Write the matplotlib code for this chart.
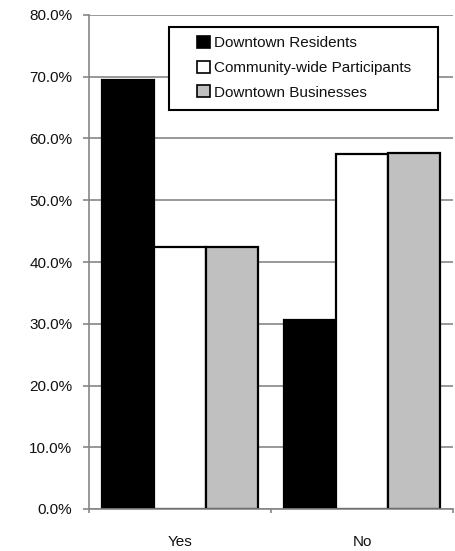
import matplotlib
matplotlib.use("Agg")
import matplotlib.pyplot as plt
from matplotlib.patches import Rectangle, Patch
from matplotlib.ticker import FuncFormatter, FixedLocator
import numpy as np

plt.rcParams['font.family'] = ['Liberation Sans', 'DejaVu Sans']

categories = ["Yes", "No"]
series_names = ["Downtown Residents", "Community-wide Participants", "Downtown Businesses"]
residents = [69.4, 30.6]
community = [42.5, 57.5]
businesses = [42.4, 57.6]
y_ticks = [0, 10, 20, 30, 40, 50, 60, 70, 80]

colors = ["#000000", "#ffffff", "#c0c0c0"]
axis_gray = "#868686"
text_color = "#111111"

fig = plt.figure(figsize=(4.55, 5.51), dpi=100)
ax = fig.add_axes([89 / 455, 1 - 509 / 551, 364 / 455, 494 / 551])

x = np.arange(len(categories))
width = 0.285
for i, (vals, col, name) in enumerate(zip([residents, community, businesses], colors, series_names)):
    ax.bar(x + (i - 1) * width, vals, width, color=col, edgecolor="black",
           linewidth=1.6, label=name, zorder=3)

ax.set_xlim(-0.5, 1.5)
ax.set_ylim(0, 80)
ax.yaxis.set_major_locator(FixedLocator(y_ticks))
ax.yaxis.set_major_formatter(FuncFormatter(lambda v, p: f"{v:.1f}%"))
ax.grid(axis="y", color=axis_gray, linewidth=1.2, zorder=0)
ax.set_axisbelow(True)

for s in ["top", "right"]:
    ax.spines[s].set_visible(False)
for s in ["left", "bottom"]:
    ax.spines[s].set_color(axis_gray)
    ax.spines[s].set_linewidth(1.2)
    ax.spines[s].set_zorder(4)

ax.tick_params(axis="y", direction="out", length=4.5, width=1.2, color=axis_gray,
               labelsize=11, labelcolor=text_color, pad=7.5)
ax.set_xticks(x)
ax.set_xticklabels(categories)
ax.tick_params(axis="x", which="major", length=0, labelsize=11, labelcolor=text_color, pad=19)
ax.set_xticks([-0.5, 0.5, 1.5], minor=True)
ax.tick_params(axis="x", which="minor", direction="out", length=3, width=1.2, color=axis_gray)

# legend box with its own frame
ax.add_patch(Rectangle((80 / 364, (509 - 110) / 494), 269 / 364, 83 / 494,
                       transform=ax.transAxes, facecolor="white", edgecolor="black",
                       linewidth=1.5, zorder=5))
handles = [Patch(facecolor=c, edgecolor="black", linewidth=1.2) for c in colors]
leg = ax.legend(handles, series_names, loc="upper left",
                bbox_to_anchor=(108 / 364, (509 - 36) / 494), frameon=False,
                fontsize=11, handlelength=0.82, handleheight=0.82, handletextpad=0.3,
                labelspacing=0.68, borderpad=0, borderaxespad=0)
for t in leg.get_texts():
    t.set_color(text_color)
leg.set_zorder(6)

fig.savefig("out.png", dpi=100)
